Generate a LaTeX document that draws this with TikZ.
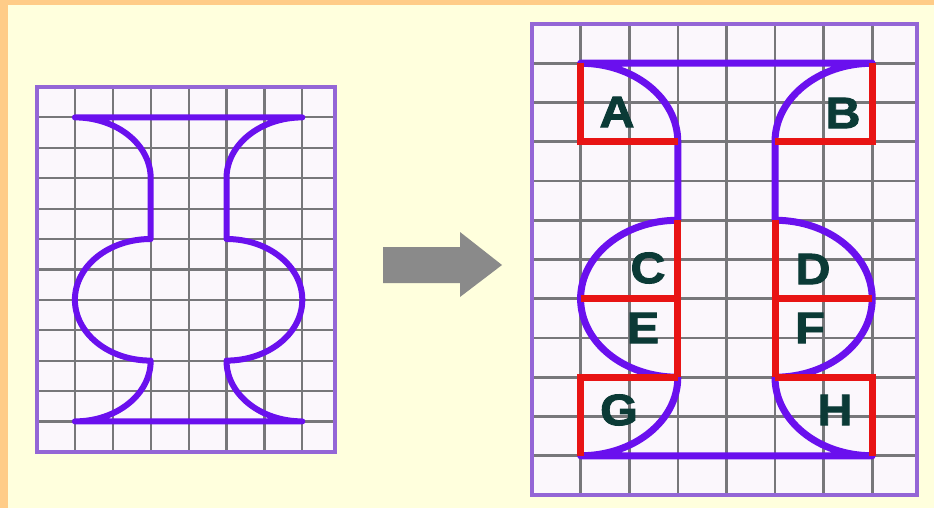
\documentclass[tikz,border=0pt]{standalone}
\usepackage{fontspec}
\setmainfont{Liberation Sans}
\newfontfamily\piecefont[BoldFeatures={FakeBold=2}]{Liberation Sans}
\definecolor{pagecream}{HTML}{FFFFDD}
\definecolor{pageband}{HTML}{FFCC88}
\definecolor{cellfill}{HTML}{FBF7FC}
\definecolor{gridgray}{HTML}{77777A}
\definecolor{framepurple}{HTML}{9466D6}
\definecolor{vaseviolet}{HTML}{6A10EE}
\definecolor{cutred}{HTML}{E81414}
\definecolor{lettergreen}{HTML}{0B3A36}
\definecolor{arrowgray}{HTML}{8A8A8A}

% outline of the vase in grid units (columns 1..7, rows 1..11, y downwards)
\newcommand{\vaseshape}{(1,1) .. controls (2.105,1) and (3,1.895) .. (3,3)
  -- (3,5) .. controls (1.895,5) and (1,5.895) .. (1,7)
  .. controls (1,8.105) and (1.895,9) .. (3,9)
  .. controls (3,10.105) and (2.105,11) .. (1,11)
  -- (7,11) .. controls (5.895,11) and (5,10.105) .. (5,9)
  .. controls (6.105,9) and (7,8.105) .. (7,7)
  .. controls (7,5.895) and (6.105,5) .. (5,5)
  -- (5,3) .. controls (5,1.895) and (5.895,1) .. (7,1) -- cycle}

\tikzset{
  gridline/.style={draw=gridgray, line width=2.2pt},
  gridframe/.style={draw=framepurple, line width=3.5pt},
  vaseline/.style={draw=vaseviolet, line width=6pt, line join=round},
  cutline/.style={draw=cutred, line width=7pt, line join=miter},
  piece/.style={font=\piecefont\bfseries\fontsize{44}{44}\selectfont,
    text=lettergreen, xscale=1.1, inner sep=0pt},
}

\begin{document}
\begin{tikzpicture}[x=1pt,y=-1pt]
  \useasboundingbox (0,0) rectangle (934,508);
  % page background with its coloured edge
  \fill[pagecream] (0,0) rectangle (934,508);
  \fill[pageband] (0,0) rectangle (934,5);
  \fill[pageband] (0,0) rectangle (8,508);

  % original vase on squared paper
  \begin{scope}[shift={(37pt,-87pt)}, x=37.9pt, y=-30.4pt]
    \fill[cellfill] (0,0) rectangle (7.86,12);
    \foreach \i in {1,...,7} \draw[gridline] (\i,0) -- (\i,12);
    \foreach \j in {1,...,11} \draw[gridline] (0,\j) -- (7.86,\j);
    \draw[gridframe] (0,0) rectangle (7.86,12);
    \draw[vaseline] \vaseshape;
  \end{scope}

  % block arrow
  \fill[arrowgray] (383,247) -- (460,247) -- (460,232) -- (502,265)
    -- (460,297) -- (460,283) -- (383,283) -- cycle;

  % enlarged vase with the cut pieces marked
  \begin{scope}[shift={(532pt,-24pt)}, x=48.6pt, y=-39.25pt]
    \fill[cellfill] (0,0) rectangle (7.92,12);
    \foreach \i in {1,...,7} \draw[gridline, line width=2.6pt] (\i,0) -- (\i,12);
    \foreach \j in {1,...,11} \draw[gridline, line width=2.6pt] (0,\j) -- (7.92,\j);
    \draw[gridframe, line width=4.5pt] (0,0) rectangle (7.92,12);
    \draw[vaseline, line width=7pt] \vaseshape;
    \draw[cutline] (1,1) -- (1,3) -- (3,3);
    \draw[cutline] (7,1) -- (7,3) -- (5,3);
    \draw[cutline] (3,5) -- (3,9);
    \draw[cutline] (5,5) -- (5,9);
    \draw[cutline] (1,7) -- (3,7);
    \draw[cutline] (5,7) -- (7,7);
    \draw[cutline] (3,9) -- (1,9) -- (1,11);
    \draw[cutline] (5,9) -- (7,9) -- (7,11);
  \end{scope}

  \node[piece] (pa) at (617,112) {A};
  \node[piece] (pb) at (843,113) {B};
  \node[piece] (pc) at (648,268) {C};
  \node[piece] (pd) at (813,269) {D};
  \node[piece] (pe) at (643,328) {E};
  \node[piece] (pf) at (810,328) {F};
  \node[piece] (pg) at (619,410) {G};
  \node[piece] (ph) at (835,410) {H};
\end{tikzpicture}
\end{document}
